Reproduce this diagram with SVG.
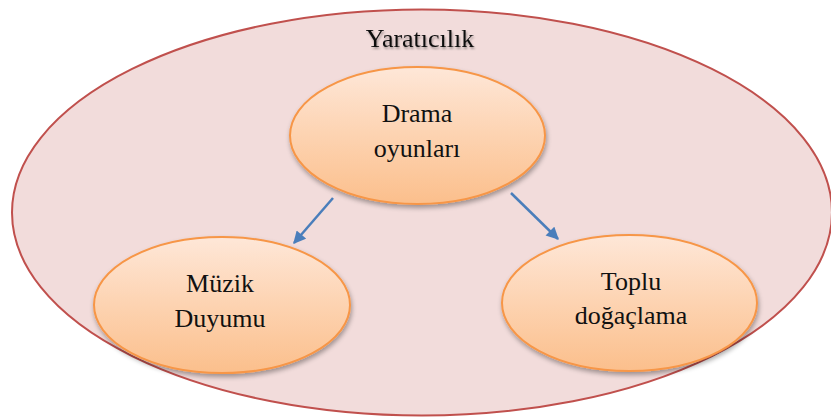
<svg xmlns="http://www.w3.org/2000/svg" width="831" height="419" viewBox="0 0 831 419">
<style>
.lbl{font-family:"Liberation Serif","Times New Roman",serif;font-size:26px;fill:#111;text-anchor:middle}
.node{fill:url(#og);stroke:#f79646;stroke-width:2;filter:url(#sh)}
.conn{stroke:#4a7ebb;stroke-width:2.5;fill:none;marker-end:url(#ah)}
</style>
<defs>
<linearGradient id="og" x1="0" y1="0" x2="0" y2="1">
<stop offset="0" stop-color="#fee7d8"/>
<stop offset="0.5" stop-color="#fdd3b1"/>
<stop offset="1" stop-color="#fbbf8c"/>
</linearGradient>
<filter id="sh" x="-10%" y="-10%" width="125%" height="130%">
<feGaussianBlur in="SourceAlpha" stdDeviation="2.5"/>
<feOffset dx="1" dy="3" result="b"/>
<feComponentTransfer><feFuncA type="linear" slope="0.35"/></feComponentTransfer>
<feMerge><feMergeNode/><feMergeNode in="SourceGraphic"/></feMerge>
</filter>
<filter id="ts" x="-5%" y="-20%" width="115%" height="150%">
<feGaussianBlur in="SourceAlpha" stdDeviation="1"/>
<feOffset dx="1" dy="1.5"/>
<feComponentTransfer><feFuncA type="linear" slope="0.35"/></feComponentTransfer>
<feMerge><feMergeNode/><feMergeNode in="SourceGraphic"/></feMerge>
</filter>
<marker id="ah" viewBox="0 0 10 10" refX="9" refY="5" markerWidth="5.5" markerHeight="5" markerUnits="strokeWidth" orient="auto">
<path d="M0,0 L10,5 L0,10 z" fill="#4a7ebb"/>
</marker>
</defs>
<g id="outer">
<ellipse cx="422" cy="212.5" rx="410" ry="203" fill="#f2dcdb" stroke="#c0504d" stroke-width="2"/>
<text class="lbl" x="420" y="47" filter="url(#ts)">Yaratıcılık</text>
</g>
<g id="connectors">
<line class="conn" x1="333" y1="198" x2="294" y2="243"/>
<line class="conn" x1="511" y1="193" x2="558" y2="239"/>
</g>
<g id="drama">
<ellipse class="node" cx="417.5" cy="135.5" rx="127.5" ry="68.5"/>
<text class="lbl" x="417" y="122">Drama</text>
<text class="lbl" x="417" y="157">oyunları</text>
</g>
<g id="muzik">
<ellipse class="node" cx="222" cy="305" rx="128" ry="68"/>
<text class="lbl" x="220" y="292">Müzik</text>
<text class="lbl" x="220" y="327">Duyumu</text>
</g>
<g id="toplu">
<ellipse class="node" cx="629.5" cy="303" rx="127.5" ry="68"/>
<text class="lbl" x="631" y="290">Toplu</text>
<text class="lbl" x="631" y="324">doğaçlama</text>
</g>
</svg>
